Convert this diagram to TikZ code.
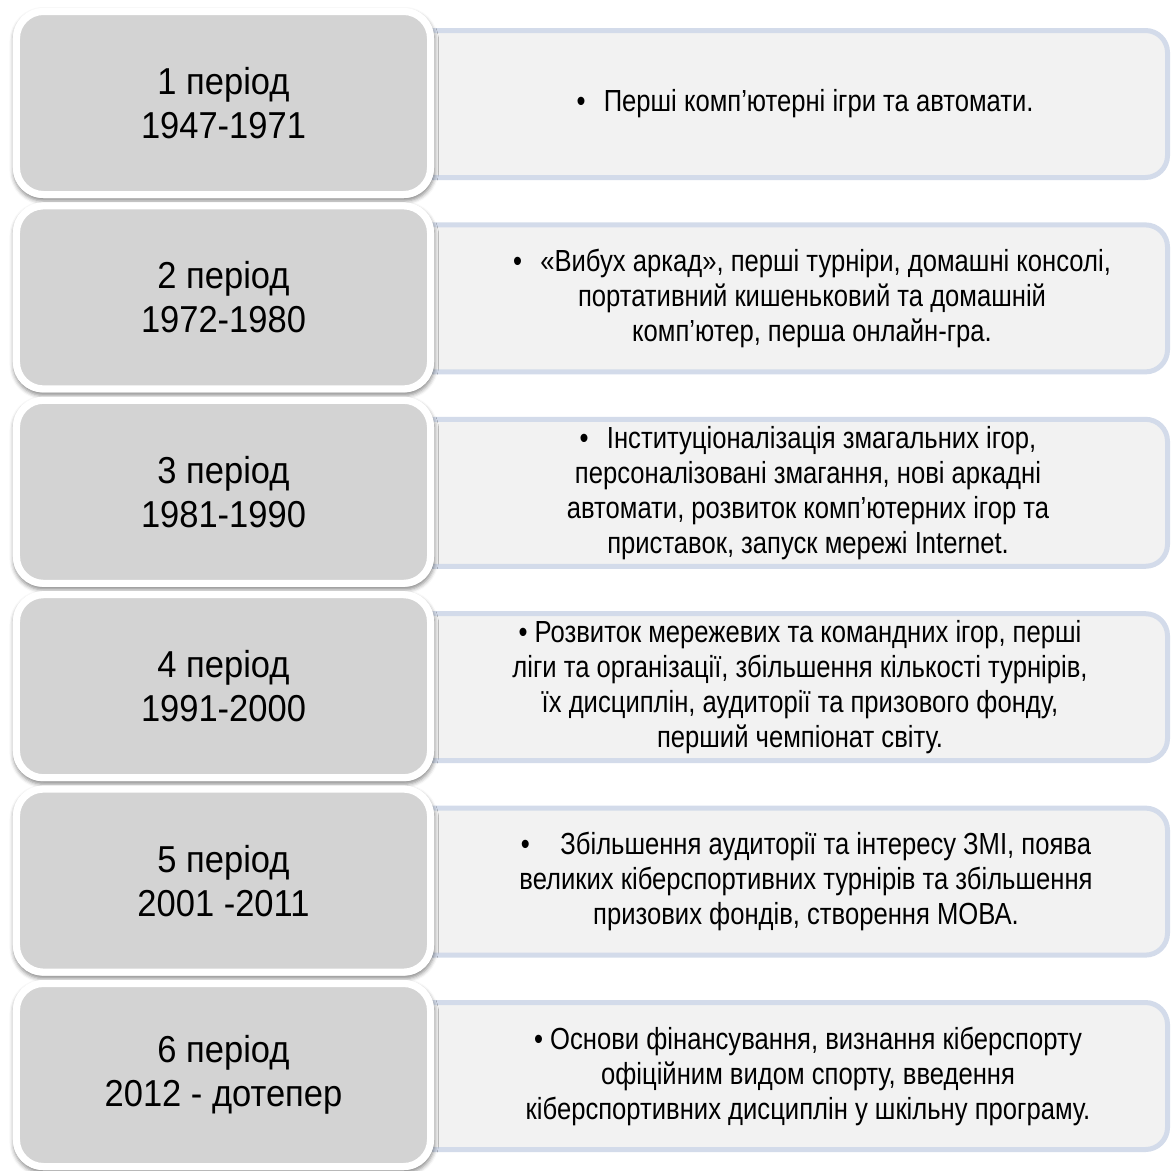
\documentclass[tikz,border=0pt]{standalone}
\usepackage{fontspec}
\setmainfont{Liberation Sans}
\newfontfamily\narrowR[FakeStretch=0.84]{Liberation Sans}
\newfontfamily\narrowL[FakeStretch=0.92]{Liberation Sans}
\usetikzlibrary{shadows.blur}
\definecolor{leftgray}{HTML}{D3D3D3}
\definecolor{rightfill}{HTML}{F2F2F2}
\definecolor{rightline}{HTML}{D3DBEA}
\tikzset{
  shadowbase/.style={fill=white, rounded corners=30bp, inner sep=0pt,
    minimum width=421bp, minimum height=190bp,
    blur shadow={shadow xshift=0.5bp, shadow yshift=-3bp, shadow blur radius=4bp, shadow opacity=45}},
  periodbox/.style={draw=white, line width=7bp, fill=leftgray, rounded corners=27bp,
    minimum width=414bp, minimum height=183bp, inner sep=0pt},
  descbox/.style={draw=rightline, line width=5bp, fill=rightfill, rounded corners=22bp,
    minimum width=787.5bp, minimum height=147bp, inner sep=0pt},
  periodtext/.style={align=center, inner sep=0pt, font=\narrowL\fontsize{37.5bp}{44bp}\selectfont},
  desctext/.style={align=center, inner sep=0pt, font=\narrowR\fontsize{30.5bp}{35bp}\selectfont},
}
\begin{document}
\begin{tikzpicture}[x=1bp, y=-1bp]
\useasboundingbox (0,0) rectangle (1175,1171);
% right description boxes
\foreach \i in {0,...,5}{
  \node[descbox] (d\i) at (773.75, 104+194.4*\i) {};
}
% left period boxes with shadows
\foreach \i in {0,...,5}{
  \node[shadowbase] (s\i) at (223.5, 103+194.4*\i) {};
  \node[periodbox] (p\i) at (s\i) {};
}
% period texts
\node[periodtext] (pt0) at (p0) {1 період\\1947-1971};
\node[periodtext] (pt1) at (p1) {2 період\\1972-1980};
\node[periodtext] (pt2) at (p2) {3 період\\1981-1990};
\node[periodtext] (pt3) at (p3) {4 період\\1991-2000};
\node[periodtext] (pt4) at (p4) {5 період\\2001 -2011};
\node[periodtext] (pt5) at (p5) {6 період\\2012 - дотепер};
% description texts
\node[desctext] (dt0) at (805, 104) {•\hspace{0.6em}Перші комп’ютерні ігри та автомати.};
\node[desctext] (dt1) at (812, 104+194.4) {•\hspace{0.6em}«Вибух аркад», перші турніри, домашні консолі,\\портативний кишеньковий та домашній\\комп’ютер, перша онлайн-гра.};
\node[desctext] (dt2) at (808, 104+2*194.4) {•\hspace{0.6em}Інституціоналізація змагальних ігор,\\персоналізовані змагання, нові аркадні\\автомати, розвиток комп’ютерних ігор та\\приставок, запуск мережі Internet.};
\node[desctext] (dt3) at (800, 104+3*194.4) {• Розвиток мережевих та командних ігор, перші\\ліги та організації, збільшення кількості турнірів,\\їх дисциплін, аудиторії та призового фонду,\\перший чемпіонат світу.};
\node[desctext] (dt4) at (806, 104+4*194.4) {•\hspace{1em}Збільшення аудиторії та інтересу ЗМІ, поява\\великих кіберспортивних турнірів та збільшення\\призових фондів, створення МОВА.};
\node[desctext] (dt5) at (808, 104+5*194.4) {• Основи фінансування, визнання кіберспорту\\офіційним видом спорту, введення\\кіберспортивних дисциплін у шкільну програму.};
\end{tikzpicture}
\end{document}
